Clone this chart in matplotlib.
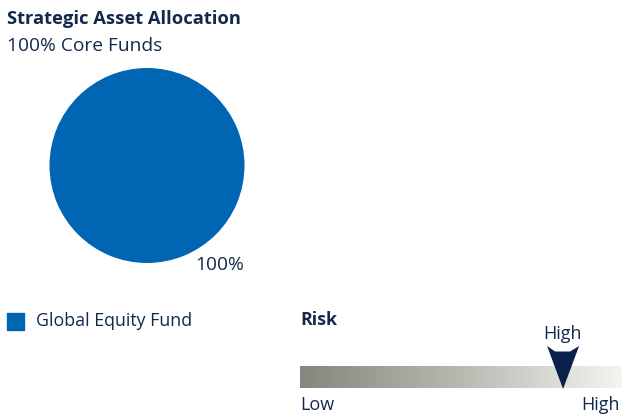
import numpy as np
import matplotlib
matplotlib.use("Agg")
import matplotlib.pyplot as plt
from matplotlib.colors import LinearSegmentedColormap
from matplotlib.patches import Polygon, Rectangle

plt.rcParams['font.family'] = ['Open Sans', 'DejaVu Sans']

# data
funds = ['Global Equity Fund']
weights = [100]
fund_colors = ['#0066b3']
risk_level = 0.817  # 0 = Low, 1 = High
risk_label = 'High'

NAVY = '#13294b'
W, H = 622, 415

fig = plt.figure(figsize=(W / 100, H / 100), dpi=100)

# overlay axes in pixel coordinates
ax = fig.add_axes([0, 0, 1, 1])
ax.set_xlim(0, W)
ax.set_ylim(H, 0)
ax.axis('off')

# pie
cx, cy, r = 147, 165.5, 97.5
pax = fig.add_axes([(cx - r) / W, 1 - (cy + r) / H, 2 * r / W, 2 * r / H])
pax.pie(weights, colors=fund_colors, labels=[f'{w}%' for w in weights],
        startangle=116, labeldistance=1.14, radius=1,
        textprops={'fontsize': 13.8, 'color': NAVY})
pax.set_xlim(-1, 1)
pax.set_ylim(-1, 1)
pax.set_aspect('equal')
pax.axis('off')

ax.text(7, 19, 'Strategic Asset Allocation', fontsize=13.2, fontweight='bold',
        color=NAVY, va='center', ha='left')
ax.text(7, 46, '100% Core Funds', fontsize=13.8, color=NAVY, va='center', ha='left')

# legend
for i, (name, c) in enumerate(zip(funds, fund_colors)):
    y = 321 + i * 24
    ax.add_patch(Rectangle((7, y - 8.5), 17, 17, color=c))
    ax.text(36, y, name, fontsize=12.8, color=NAVY, va='center', ha='left')

# risk scale
bx0, bx1, by0, by1 = 300, 622, 367, 388
ax.text(bx0, 320, 'Risk', fontsize=12.8, fontweight='bold',
        color=NAVY, va='center', ha='left')
cmap = LinearSegmentedColormap.from_list('risk', ['#86867e', '#b9b8b1', '#f4f4f2'])
ax.imshow(np.linspace(0, 1, 256)[None, :], cmap=cmap, aspect='auto',
          extent=(bx0, bx1, by1, by0), zorder=1)
ax.text(bx0, 405, 'Low', fontsize=13, color=NAVY, va='center', ha='left')
ax.text(bx1 - 2, 405, 'High', fontsize=13, color=NAVY, va='center', ha='right')

ax_x = bx0 + risk_level * (bx1 - bx0)
arrow = Polygon([(ax_x - 16, 346), (ax_x - 8, 351.5), (ax_x + 7, 351.5),
                 (ax_x + 16, 346), (ax_x, 389)], closed=True,
                facecolor='#0b1f4b', edgecolor='none', zorder=3)
ax.add_patch(arrow)
ax.text(ax_x - 1, 334, risk_label, fontsize=13, color=NAVY, va='center', ha='center')

fig.savefig('out.png', dpi=100)
